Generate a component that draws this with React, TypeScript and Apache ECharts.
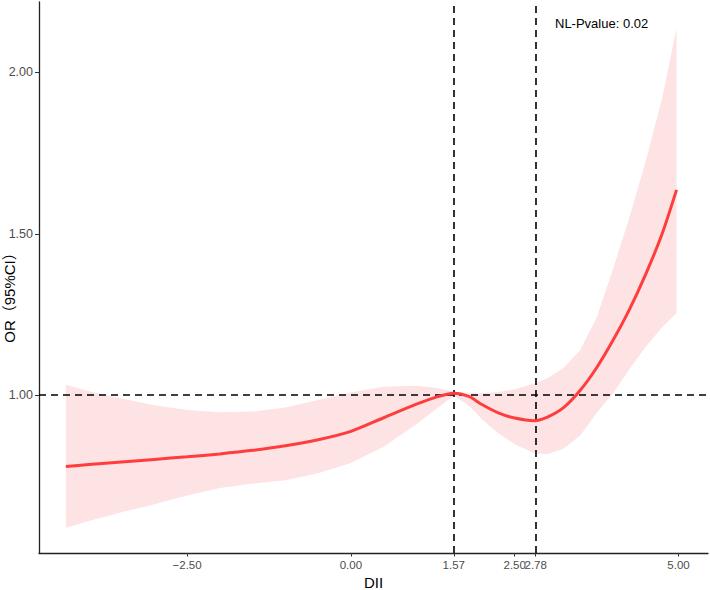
import React, { useEffect, useRef } from "react";
import * as echarts from "echarts";

// DII values where the curve was read
const DII = [-4.35, -4.0, -3.5, -3.0, -2.5, -2.0, -1.5, -1.0, -0.5, 0.0, 0.5, 1.0, 1.3, 1.57, 1.8, 2.0, 2.25, 2.5, 2.8, 3.0, 3.25, 3.5, 3.75, 4.0, 4.25, 4.5, 4.75, 4.97];
// Odds ratio (fitted)
const OR = [0.779, 0.785, 0.793, 0.801, 0.809, 0.818, 0.829, 0.843, 0.862, 0.888, 0.930, 0.972, 0.994, 1.006, 0.996, 0.971, 0.945, 0.929, 0.921, 0.932, 0.962, 1.015, 1.085, 1.170, 1.265, 1.375, 1.500, 1.636];
// 95% CI upper
const UPPER = [1.032, 1.012, 0.990, 0.969, 0.954, 0.947, 0.949, 0.962, 0.985, 1.008, 1.026, 1.029, 1.023, 1.011, 1.005, 1.006, 1.010, 1.018, 1.036, 1.052, 1.085, 1.140, 1.240, 1.390, 1.550, 1.725, 1.920, 2.136];
// 95% CI lower
const LOWER = [0.589, 0.610, 0.637, 0.662, 0.689, 0.712, 0.726, 0.736, 0.758, 0.790, 0.840, 0.910, 0.957, 0.998, 0.968, 0.925, 0.882, 0.848, 0.820, 0.817, 0.835, 0.875, 0.945, 1.005, 1.080, 1.150, 1.210, 1.254];

// x tick positions (as drawn) and their printed labels
const X_TICKS = [-2.5, 0, 1.57, 2.5, 2.82, 5];
const X_TICK_LABELS = ["\u22122.50", "0.00", "1.57", "2.50", "2.78", "5.00"];
const Y_TICKS = [1, 1.5, 2];
const Y_TICK_LABELS = ["1.00", "1.50", "2.00"];
// vertical reference lines (knots), same positions as the 1.57 and 2.78 ticks
const KNOTS = [1.57, 2.82];
const REF_OR = 1;
const P_TEXT = "NL-Pvalue: 0.02";
const X_NAME = "DII";
const Y_NAME = "OR（95%CI）";

const FONT = "Liberation Sans, Arial, Noto Sans CJK SC, sans-serif";

export default function App() {
  const ref = useRef<HTMLDivElement>(null);
  useEffect(() => {
    if (!ref.current) return;
    const chart = echarts.init(ref.current, undefined, { renderer: "svg" });
    const lab = (ticks: number[], labels: string[]) => (v: number) => {
      const i = ticks.findIndex((t) => Math.abs(t - v) < 1e-6);
      return i >= 0 ? labels[i] : "";
    };
    const dash = { color: "#000", width: 1.6, type: [7, 5] as number[] };
    chart.setOption({
      animation: false,
      backgroundColor: "#fff",
      textStyle: { fontFamily: FONT },
      grid: { left: 39, right: 2, top: 2, bottom: 37, containLabel: false, outerBoundsMode: "none" },
      xAxis: {
        type: "value",
        min: -4.76,
        max: 5.45,
        name: X_NAME,
        nameLocation: "middle",
        nameGap: 20,
        nameTextStyle: { color: "#000", fontSize: 15, lineHeight: 14, fontFamily: FONT },
        splitLine: { show: false },
        axisLine: { onZero: false, lineStyle: { color: "#222", width: 1.3 } },
        axisTick: { customValues: X_TICKS, length: 3.5, lineStyle: { color: "#333", width: 1 } },
        axisLabel: { customValues: X_TICKS, formatter: lab(X_TICKS, X_TICK_LABELS), color: "#4d4d4d", fontSize: 11.5, margin: 6, fontFamily: FONT },
      },
      yAxis: {
        type: "value",
        min: 0.511,
        max: 2.218,
        splitLine: { show: false },
        axisLine: { show: true, onZero: false, lineStyle: { color: "#222", width: 1.3 } },
        axisTick: { show: true, customValues: Y_TICKS, length: 4, lineStyle: { color: "#333", width: 1 } },
        axisLabel: { customValues: Y_TICKS, formatter: lab(Y_TICKS, Y_TICK_LABELS), color: "#4d4d4d", fontSize: 12.5, margin: 6, fontFamily: FONT },
      },
      graphic: [
        {
          type: "text",
          x: 9,
          y: 294,
          rotation: Math.PI / 2,
          style: { text: Y_NAME, fontSize: 15, fill: "#000", align: "center", verticalAlign: "middle", fontFamily: FONT },
        },
        {
          type: "text",
          x: 555,
          y: 23,
          style: { text: P_TEXT, fontSize: 13, fill: "#000", align: "left", verticalAlign: "middle", fontFamily: FONT },
        },
      ],
      series: [
        {
          type: "custom",
          silent: true,
          z: 1,
          data: [[DII[0], OR[0]]],
          renderItem: (_params: any, api: any) => {
            const pts: number[][] = DII.map((x, i) => api.coord([x, UPPER[i]]));
            for (let i = DII.length - 1; i >= 0; i--) pts.push(api.coord([DII[i], LOWER[i]]));
            return { type: "polygon", shape: { points: pts }, style: { fill: "#fde3e4" } };
          },
        },
        {
          type: "line",
          data: DII.map((x, i) => [x, OR[i]]),
          symbol: "none",
          smooth: 0.25,
          lineStyle: { color: "#ff3d3d", width: 3 },
          z: 3,
          markLine: {
            silent: true,
            symbol: "none",
            label: { show: false },
            lineStyle: dash,
            z: 2,
            data: [{ yAxis: REF_OR }, ...KNOTS.map((k) => ({ xAxis: k }))],
          },
        },
      ],
    });
    return () => chart.dispose();
  }, []);
  return <div ref={ref} style={{ position: "absolute", left: 0, top: 0, width: 710, height: 590 }} />;
}
